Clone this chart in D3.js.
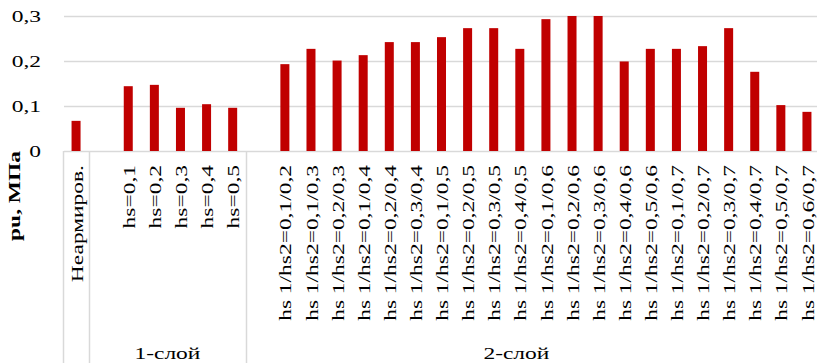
<!DOCTYPE html>
<html><head><meta charset="utf-8">
<script src="https://cdn.jsdelivr.net/npm/d3@7"></script>
<style>
html,body{margin:0;padding:0;background:#fff;}
svg{display:block;}
text{font-family:"Liberation Serif","Times New Roman",serif;fill:#000;}
</style></head>
<body>
<svg id="chart" width="817" height="363"></svg>
<script>
// ---- data ----
const categories = [
  "Неармиров.",
  "", "hs=0,1", "hs=0,2", "hs=0,3", "hs=0,4", "hs=0,5",
  "", "hs 1/hs2=0,1/0,2", "hs 1/hs2=0,1/0,3", "hs 1/hs2=0,2/0,3",
  "hs 1/hs2=0,1/0,4", "hs 1/hs2=0,2/0,4", "hs 1/hs2=0,3/0,4",
  "hs 1/hs2=0,1/0,5", "hs 1/hs2=0,2/0,5", "hs 1/hs2=0,3/0,5", "hs 1/hs2=0,4/0,5",
  "hs 1/hs2=0,1/0,6", "hs 1/hs2=0,2/0,6", "hs 1/hs2=0,3/0,6", "hs 1/hs2=0,4/0,6", "hs 1/hs2=0,5/0,6",
  "hs 1/hs2=0,1/0,7", "hs 1/hs2=0,2/0,7", "hs 1/hs2=0,3/0,7", "hs 1/hs2=0,4/0,7", "hs 1/hs2=0,5/0,7", "hs 1/hs2=0,6/0,7"
];
const values = [
  0.067,
  null, 0.144, 0.147, 0.096, 0.104, 0.096,
  null, 0.193, 0.227, 0.201,
  0.213, 0.242, 0.242,
  0.253, 0.273, 0.273, 0.227,
  0.293, 0.300, 0.300, 0.199, 0.227,
  0.227, 0.233, 0.273, 0.176, 0.102, 0.087
];
const groupLabels = ["", "1-слой", "2-слой"];
const groupSizes = [1, 6, 22];
const yTicks = [0, 0.1, 0.2, 0.3];
const yTitle = "pu, МПа";

// ---- layout ----
const svg = d3.select("#chart");
const mLeft = 63, mRight = 820, mTop = 16, mBottom = 151;
const stretch = 1.38;

const idx = categories.map((d, i) => i);
const x = d3.scaleBand().domain(idx).range([mLeft, mRight]).paddingInner(0.655).paddingOuter(0.3275);
const step = x.step();
const y = d3.scaleLinear().domain([0, 0.3]).range([mBottom, mTop]);

const locale = d3.formatLocale({decimal: ",", thousands: " ", grouping: [3], currency: ["", ""]});
const fmt = v => v === 0 ? "0" : locale.format(".1f")(v);

// gridlines
svg.append("g").selectAll("line").data(yTicks).join("line")
  .attr("x1", mLeft + 1).attr("x2", 817)
  .attr("y1", d => Math.round(y(d)) + 0.5).attr("y2", d => Math.round(y(d)) + 0.5)
  .attr("stroke", "#d9d9d9").attr("stroke-width", 1.5);

// y tick labels
svg.append("g").selectAll("text").data(yTicks).join("text")
  .attr("transform", d => `translate(41,${y(d)}) scale(${stretch},1)`)
  .attr("text-anchor", "end").attr("dy", "0.35em")
  .style("font-size", "17px")
  .text(fmt);

// bars
svg.append("g").selectAll("rect").data(idx.filter(i => values[i] != null)).join("rect")
  .attr("x", i => x(i)).attr("width", x.bandwidth())
  .attr("y", i => y(values[i])).attr("height", i => y(0) - y(values[i]))
  .attr("fill", "#c00000");

// group separators
const bounds = [0];
groupSizes.forEach(s => bounds.push(bounds[bounds.length - 1] + s));
svg.append("g").selectAll("line").data(bounds).join("line")
  .attr("x1", b => Math.round(mLeft + b * step) + 0.5).attr("x2", b => Math.round(mLeft + b * step) + 0.5)
  .attr("y1", mBottom).attr("y2", 363)
  .attr("stroke", "#d9d9d9").attr("stroke-width", 1.5);

// category labels (rotated)
svg.append("g").selectAll("text").data(idx.filter(i => categories[i])).join("text")
  .attr("transform", i => `translate(${x(i) + x.bandwidth() / 2 + 1},165) rotate(-90) scale(${stretch},1)`)
  .attr("text-anchor", "end").attr("dy", "0.33em")
  .style("font-size", "17px")
  .text(i => categories[i]);

// group labels
const groupX = [
  mLeft + step * 0.5,
  mLeft + (bounds[1] + bounds[2]) / 2 * step,
  (mLeft + bounds[2] * step + 787) / 2
];
svg.append("g").selectAll("text").data(groupLabels).join("text")
  .attr("transform", (d, i) => `translate(${groupX[i]},359) scale(${stretch},1)`)
  .attr("text-anchor", "middle")
  .style("font-size", "17px")
  .text(d => d);

// y title
svg.append("text")
  .attr("transform", `translate(14,196) rotate(-90) scale(${stretch},1)`)
  .attr("text-anchor", "middle").attr("dy", "0.35em")
  .style("font-size", "17px").style("font-weight", "bold")
  .text(yTitle);
</script>
</body></html>
